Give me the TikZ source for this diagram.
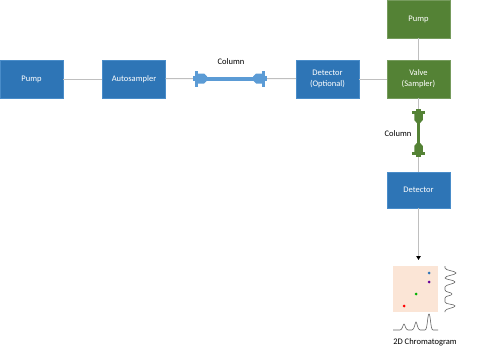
\documentclass[tikz,border=0pt]{standalone}
\usepackage{fontspec}
\setmainfont{Carlito}
\usetikzlibrary{arrows.meta}
\definecolor{boxblue}{HTML}{2E75B6}
\definecolor{boxgreen}{HTML}{548235}
\definecolor{colblue}{HTML}{5B9BD5}
\definecolor{wire}{HTML}{BFBFBF}
\definecolor{plate}{HTML}{FBE5D6}
\tikzset{pics/lccol/.style={code={
  \fill (-#1+1,-2) rectangle (#1-1,2);
  \foreach \s in {-1,1} {
    \fill[xscale=\s] (-#1,-2.5) rectangle (-#1+2,2.5);
    \fill[xscale=\s] (-#1+2,-8) rectangle (-#1+5,8);
    \fill[xscale=\s] (-#1+5,-5) -- (-#1+11,-5) -- (-#1+14,-2) -- (-#1+14,2) -- (-#1+11,5) -- (-#1+5,5) -- cycle;
  }
}}}
\begin{document}
\begin{tikzpicture}[x=1pt, y=-1pt, every node/.style={font=\fontsize{8.5}{11}\selectfont, inner sep=0pt}, unit/.style={minimum width=63pt, minimum height=38pt, align=center, text=white}, blue/.style={unit, fill=boxblue, draw=colblue!60!boxblue, line width=0.4pt}, green/.style={unit, fill=boxgreen, draw=boxgreen!80!white, line width=0.4pt}, conn/.style={draw=wire, line width=1pt}, trace/.style={draw=gray!80!black, line width=0.6pt}]
    \useasboundingbox (0,0) rectangle (500,353);

    % first dimension
    \node[blue] (1) at (31.5,79) {Pump};
    \node[blue] (2) at (134,79) {Autosampler};
    \coordinate (c1a) at (193,78.5);
    \coordinate (c1b) at (267,78.5);
    \node[blue] (3) at (327.5,79) {Detector\\(Optional)};
    \node[green] (4) at (418.5,79) {Valve\\(Sampler)};

    % second dimension
    \node[green] (5) at (418.5,19) {Pump};
    \coordinate (c2a) at (418.5,109);
    \coordinate (c2b) at (418.5,157);
    \node[blue, minimum height=36pt] (6) at (418.5,190) {Detector};
    \coordinate (tip) at (418.5,260);

    \draw[conn] (1) -- (2);
    \draw[conn] (2) -- (c1a);
    \draw[conn] (c1b) -- (3);
    \draw[conn] (3) -- (4);
    \draw[conn] (5) -- (4);
    \draw[conn] (4) -- (c2a);
    \draw[conn] (c2b) -- (6);
    \draw[conn, -{Triangle[black, length=4pt, width=4.5pt]}] (6) -- (tip);

    % columns
    \pic[colblue] at (230,78.5) {lccol=37};
    \node (col1) at (231,62) {Column};
    \pic[boxgreen, rotate=90, yscale=0.85] at (418.5,133) {lccol=24};
    \node (col2) at (398,134) {Column};

    % chromatogram
    \node[fill=plate, minimum width=45pt, minimum height=46pt] (7) at (415.5,289) {};
    \fill[boxblue] (429,273) circle (1.5);
    \fill[violet!80!blue] (429,282) circle (1.5);
    \fill[green!70!black] (416,294) circle (1.5);
    \fill[red] (404,306) circle (1.5);
    \draw[trace] (393,330) -- (400,330) .. controls (402.5,330) and (403,324) .. (404,324) .. controls (405,324) and (405.5,330) .. (408,330) -- (412,330) .. controls (414.5,330) and (415,322) .. (416,322) .. controls (417,322) and (417.5,330) .. (420,330) -- (425,330) .. controls (427.5,330) and (427.5,314) .. (429,314) .. controls (430.5,314) and (430.5,330) .. (433,330) -- (438,330);
    \draw[trace] (445,266) -- (445,268) .. controls (445,270.5) and (456,271) .. (456,273) .. controls (456,275) and (445,275.5) .. (445,278) .. controls (445,279.5) and (455,280) .. (455,282) .. controls (455,284) and (445,284.5) .. (445,287) -- (445,290) .. controls (445,292.5) and (452,292) .. (452,294) .. controls (452,296) and (445,295.5) .. (445,298) -- (445,302) .. controls (445,304.5) and (455,304) .. (455,306) .. controls (455,308) and (445,308.5) .. (445,311) -- (445,312);
    \node (lbl) at (425,342) {2D Chromatogram};
\end{tikzpicture}
\end{document}
